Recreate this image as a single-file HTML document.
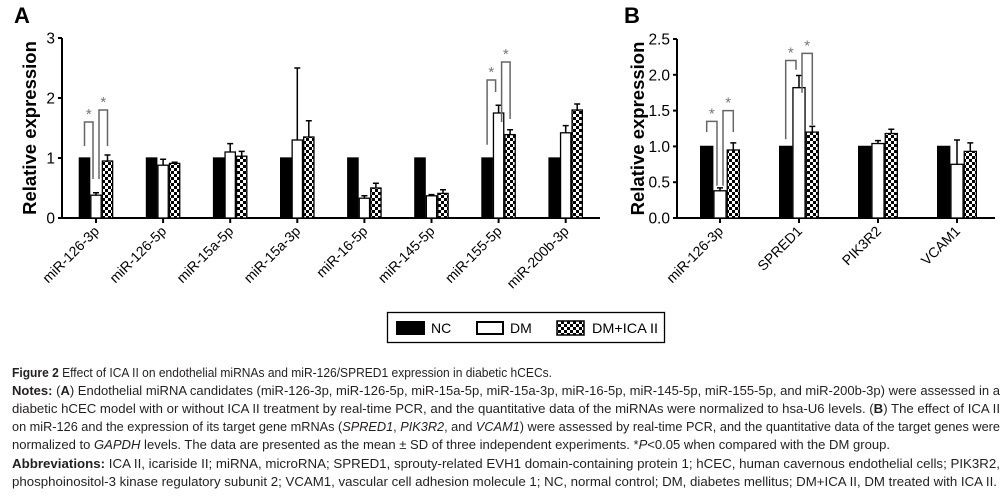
<!DOCTYPE html>
<html><head><meta charset="utf-8"><style>
html,body{margin:0;padding:0;background:#fff;}
svg{display:block;font-family:"Liberation Sans",Arial,sans-serif;}
.cap{font-size:12.6px;fill:#231f20;}
</style></head><body>
<svg id="fig" width="1005" height="496" viewBox="0 0 1005 496">
<defs>
<pattern id="chk" width="6" height="6" patternUnits="userSpaceOnUse">
<rect width="6" height="6" fill="#fff"/><rect width="3" height="3" fill="#000"/><rect x="3" y="3" width="3" height="3" fill="#000"/>
</pattern>
</defs>
<g id="gA"></g>
<g id="gB"></g>
<g>
<rect x="387.5" y="312.5" width="277" height="30" fill="#fff" stroke="#000" stroke-width="1.3"/>
<g><rect x="396" y="321" width="29" height="14" fill="#000"/><text x="431" y="333" font-size="14">NC</text></g>
<g><rect x="477" y="322" width="26" height="12" fill="#fff" stroke="#000" stroke-width="2"/><text x="510" y="333" font-size="14">DM</text></g>
<g><rect x="557" y="321" width="27" height="14" fill="url(#chk)" stroke="#000" stroke-width="1.5"/><text x="592" y="333" font-size="14" textLength="66" lengthAdjust="spacingAndGlyphs">DM+ICA II</text></g>
</g>
<g>
<text class="cap" x="12" y="377" textLength="540" lengthAdjust="spacingAndGlyphs"><tspan font-weight="bold">Figure 2</tspan> Effect of ICA II on endothelial miRNAs and miR-126/SPRED1 expression in diabetic hCECs.</text>
<text class="cap" x="12" y="395" textLength="988" lengthAdjust="spacingAndGlyphs"><tspan font-weight="bold">Notes:</tspan> (<tspan font-weight="bold">A</tspan>) Endothelial miRNA candidates (miR-126-3p, miR-126-5p, miR-15a-5p, miR-15a-3p, miR-16-5p, miR-145-5p, miR-155-5p, and miR-200b-3p) were assessed in a</text>
<text class="cap" x="12" y="413" textLength="988" lengthAdjust="spacingAndGlyphs">diabetic hCEC model with or without ICA II treatment by real-time PCR, and the quantitative data of the miRNAs were normalized to hsa-U6 levels. (<tspan font-weight="bold">B</tspan>) The effect of ICA II</text>
<text class="cap" x="12" y="431" textLength="988" lengthAdjust="spacingAndGlyphs">on miR-126 and the expression of its target gene mRNAs (<tspan font-style="italic">SPRED1</tspan>, <tspan font-style="italic">PIK3R2</tspan>, and <tspan font-style="italic">VCAM1</tspan>) were assessed by real-time PCR, and the quantitative data of the target genes were</text>
<text class="cap" x="12" y="449" textLength="878" lengthAdjust="spacingAndGlyphs">normalized to <tspan font-style="italic">GAPDH</tspan> levels. The data are presented as the mean ± SD of three independent experiments. *<tspan font-style="italic">P</tspan>&lt;0.05 when compared with the DM group.</text>
<text class="cap" x="12" y="468" textLength="988" lengthAdjust="spacingAndGlyphs"><tspan font-weight="bold">Abbreviations:</tspan> ICA II, icariside II; miRNA, microRNA; SPRED1, sprouty-related EVH1 domain-containing protein 1; hCEC, human cavernous endothelial cells; PIK3R2,</text>
<text class="cap" x="12" y="486" textLength="985" lengthAdjust="spacingAndGlyphs">phosphoinositol-3 kinase regulatory subunit 2; VCAM1, vascular cell adhesion molecule 1; NC, normal control; DM, diabetes mellitus; DM+ICA II, DM treated with ICA II.</text>
</g>
</svg>
<script>
const catsA = ["miR-126-3p","miR-126-5p","miR-15a-5p","miR-15a-3p","miR-16-5p","miR-145-5p","miR-155-5p","miR-200b-3p"];
const ncA = [1,1,1,1,1,1,1,1];
const dmA = [0.38,0.88,1.1,1.3,0.33,0.37,1.75,1.42];
const dmErrA = [0.04,0.1,0.14,1.2,0.04,0.02,0.13,0.12];
const icaA = [0.95,0.91,1.03,1.35,0.5,0.41,1.39,1.8];
const icaErrA = [0.1,0.02,0.08,0.27,0.08,0.06,0.08,0.1];
const ticksA = ["0","1","2","3"];
const catsB = ["miR-126-3p","SPRED1","PIK3R2","VCAM1"];
const ncB = [1,1,1,1];
const dmB = [0.38,1.82,1.04,0.75];
const dmErrB = [0.04,0.17,0.04,0.34];
const icaB = [0.95,1.2,1.18,0.93];
const icaErrB = [0.1,0.08,0.06,0.12];
const ticksB = ["0.0","0.5","1.0","1.5","2.0","2.5"];
// significance brackets: [group, leftBar, rightBar, leftStart, rightEnd, top]
const sigA = [[0,0,1,1.2,0.65,1.6],[0,1,2,0.65,1.2,1.8],[6,0,1,1.22,2.1,2.3],[6,1,2,1.6,1.65,2.6]];
const sigB = [[0,0,1,1.2,0.45,1.35],[0,1,2,0.45,1.2,1.5],[1,0,1,1.1,2.07,2.2],[1,1,2,1.75,1.3,2.3]];

const NS="http://www.w3.org/2000/svg";
function mk(parent,tag,attrs){const e=document.createElementNS(NS,tag);for(const k in attrs)e.setAttribute(k,attrs[k]);parent.appendChild(e);return e;}

function drawPanel(g,cfg){
  const y=v=>cfg.y0-(v/cfg.ymax)*(cfg.y0-cfg.ytop);
  const cx=i=>cfg.x0+i*cfg.step;
  const bw=cfg.bw;
  const L=mk(g,"text",{x:cfg.letterX,y:23,"font-size":22,"font-weight":"bold"});L.textContent=cfg.letter;
  
  
  const t=mk(g,"text",{x:0,y:0,"font-size":18.5,"font-weight":"bold","text-anchor":"middle",transform:`translate(${cfg.titleX},${(cfg.y0+cfg.ytop)/2}) rotate(-90)`});
  t.textContent="Relative expression";
  
  
  const ax=mk(g,"path",{d:`M${cfg.ax} ${cfg.ytop} V${cfg.y0} H${cfg.axEnd}`,stroke:"#000","stroke-width":2,fill:"none"});
  
  
  cfg.ticks.forEach((lab,i)=>{
    const v=i*cfg.tickStep, yy=y(v);
    mk(g,"line",{x1:cfg.ax-4,x2:cfg.ax,y1:yy,y2:yy,stroke:"#000","stroke-width":2});
    const tx=mk(g,"text",{x:cfg.ax-7,y:yy+5.5,"font-size":15.5,"text-anchor":"end"});tx.textContent=lab;
    
    
  });
  cfg.cats.forEach((c,i)=>{
    const x=cx(i);
    mk(g,"line",{x1:x,x2:x,y1:cfg.y0,y2:cfg.y0+5,stroke:"#000","stroke-width":2});
    const tl=mk(g,"text",{x:0,y:0,"font-size":14,"text-anchor":"end",transform:`translate(${x+4},${cfg.y0+14}) rotate(-45)`});
    tl.textContent=c;
    
    
    const series=[[cfg.nc[i],0,"#000"],[cfg.dm[i],cfg.dmErr[i],"#fff"],[cfg.ica[i],cfg.icaErr[i],"url(#chk)"]];
    series.forEach((s,k)=>{
      const bx=x-bw*1.5+k*bw;
      if(s[1]>0){
        const bc=bx+bw/2;
        mk(g,"path",{d:`M${bc} ${y(s[0])} V${y(s[0]+s[1])} M${bc-3} ${y(s[0]+s[1])} H${bc+3}`,stroke:"#000","stroke-width":1.5,fill:"none"});
      }
      const r=mk(g,"rect",{x:bx+0.6,y:y(s[0]),width:bw-1.2,height:cfg.y0-y(s[0]),fill:s[2],stroke:"#000","stroke-width":1.3});
      
      
    });
  });
  cfg.sig.forEach(s=>{
    const x=cx(s[0]);
    const offL = s[1]===1 ? 3 : 0, offR = s[2]===1 ? -3 : 0;
    const xl=x-bw*1.5+s[1]*bw+bw/2+offL, xr=x-bw*1.5+s[2]*bw+bw/2+offR;
    const p=mk(g,"path",{d:`M${xl} ${y(s[3])} V${y(s[5])} H${xr} V${y(s[4])}`,stroke:"#666","stroke-width":1.5,fill:"none"});
    
    
    const a=mk(g,"text",{x:(xl+xr)/2,y:y(s[5])-3,"font-size":15,"text-anchor":"middle",fill:"#777"});a.textContent="*";
    
    
  });
}
drawPanel(document.getElementById("gA"),{letter:"A",letterX:14,titleX:36,ax:62,axEnd:600,y0:218,ytop:38,ymax:3,tickStep:1,ticks:ticksA,
  x0:96,step:67.1,bw:11.5,cats:catsA,nc:ncA,dm:dmA,dmErr:dmErrA,ica:icaA,icaErr:icaErrA,sig:sigA});
drawPanel(document.getElementById("gB"),{letter:"B",letterX:624,titleX:644,ax:677,axEnd:995,y0:218,ytop:39,ymax:2.5,tickStep:0.5,ticks:ticksB,
  x0:720,step:79,bw:13.3,cats:catsB,nc:ncB,dm:dmB,dmErr:dmErrB,ica:icaB,icaErr:icaErrB,sig:sigB});
</script>
</body></html>
